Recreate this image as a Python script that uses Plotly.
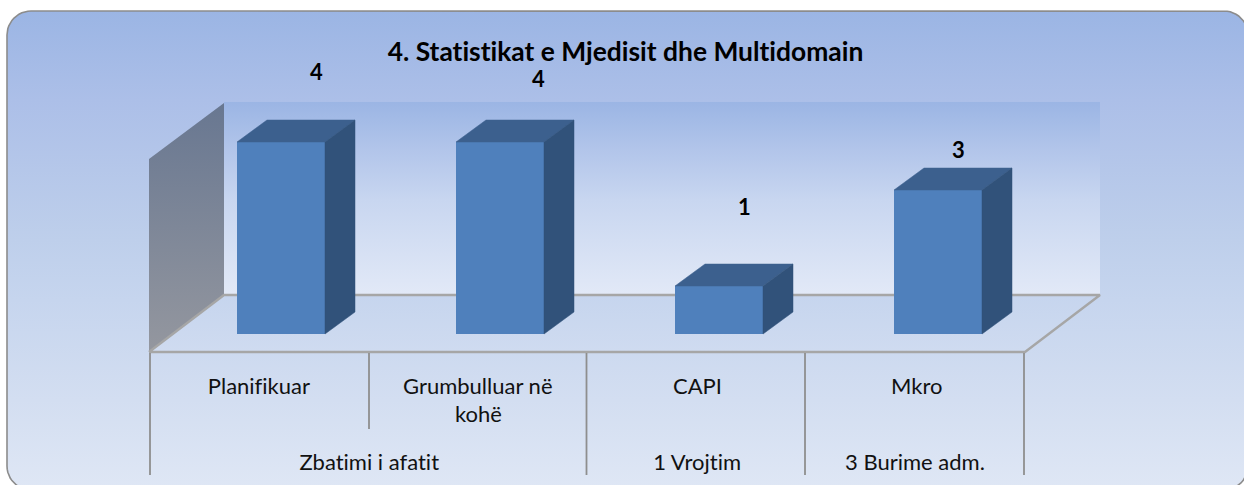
import math
import plotly.graph_objects as go

# ---- data ----
TITLE = "4. Statistikat e Mjedisit dhe Multidomain"
categories = ["Planifikuar", "Grumbulluar në\nkohë", "CAPI", "Mkro"]
values = [4, 4, 1, 3]
groups = ["Zbatimi i afatit", "1 Vrojtim", "3 Burime adm."]

# ---- canvas / projection ----
W, H = 1244, 485
PX_PER_CAT, CAT0_PX = 219.0, 281.0       # category index -> canvas x
PX_PER_UNIT, ZERO_PX = 48.0, 334.0       # value -> canvas y
BAR_WIDTH = 88 / PX_PER_CAT
DEPTH_X, DEPTH_Y = 30 / PX_PER_CAT, 22 / PX_PER_UNIT

# manual displacement of the value labels, in px (Excel labels were dragged)
LABEL_DX = [35, 38, 25, 20]
LABEL_DY = [71, 64, 80, 41]
CAT_LABEL_SHIFT = -22
GROUP_LABEL_PX = [369, 697, 915]

FONT = "Lato"
FRONT, TOP, SIDE = "#4F80BC", "#3C608E", "#31527A"
EDGE, DIV = "#A6A6A6", "#8E8E8E"

fig = go.Figure()


def chrome(xs, ys, **kw):
    fig.add_trace(go.Scatter(x=xs, y=ys, xaxis="x", yaxis="y", hoverinfo="skip",
                             showlegend=False, **kw))


def scale(stops, y0, y1):
    return [[(y - y0) / (y1 - y0), c] for y, c in stops]


# rounded panel
L, T, R, B, RAD = 7, 11, 1248, 490, 24
px, py = [], []
for cx, cy, a0 in [(L + RAD, T + RAD, 180), (R - RAD, T + RAD, 270),
                   (R - RAD, B - RAD, 0), (L + RAD, B - RAD, 90)]:
    for i in range(13):
        a = math.radians(a0 + 90 * i / 12)
        px.append(cx + RAD * math.cos(a))
        py.append(cy + RAD * math.sin(a))
px.append(px[0]); py.append(py[0])
panel_stops = [(11, "rgb(155,181,228)"), (100, "rgb(172,191,232)"),
               (240, "rgb(190,207,235)"), (300, "rgb(198,213,238)"),
               (400, "rgb(211,222,241)"), (490, "rgb(223,231,245)")]
chrome(px, py, mode="lines", fill="toself", line=dict(color="#8C8C8C", width=1.6),
       fillgradient=dict(type="vertical", start=11, stop=490,
                         colorscale=scale(panel_stops, 11, 490)))

# back wall
wall_stops = [(102, "rgb(155,181,228)"), (150, "rgb(178,197,234)"),
              (200, "rgb(200,214,240)"), (295, "rgb(226,233,247)")]
chrome([224, 1100, 1100, 224, 224], [102, 102, 295, 295, 102], mode="lines", fill="toself",
       line=dict(width=0), fillgradient=dict(type="vertical", start=102, stop=295,
                                             colorscale=scale(wall_stops, 102, 295)))
# left wall
side_stops = [(103, "rgb(104,119,145)"), (352, "rgb(148,151,159)")]
chrome([149, 224, 224, 149, 149], [159, 103, 295, 352, 159], mode="lines", fill="toself",
       line=dict(width=0), fillgradient=dict(type="vertical", start=103, stop=352,
                                             colorscale=scale(side_stops, 103, 352)))
# floor
floor_stops = [(295, "rgb(198,213,238)"), (352, "rgb(207,219,240)")]
chrome([149, 224, 1100, 1025, 149], [352, 295, 295, 352, 352], mode="lines", fill="toself",
       line=dict(width=0), fillgradient=dict(type="vertical", start=295, stop=352,
                                             colorscale=scale(floor_stops, 295, 352)))
# floor edges
chrome([149, 224, 1100, 1025, 149], [352, 295, 295, 352, 352], mode="lines",
       line=dict(color=EDGE, width=2.4))
# axis dividers
for xd, yd in [(150, 475), (369, 429), (586.5, 475), (805, 475), (1024, 475)]:
    chrome([xd, xd], [353, yd], mode="lines", line=dict(color=DIV, width=1.8))

# bars
idx = list(range(len(values)))
fig.add_trace(go.Bar(x=idx, y=values, width=BAR_WIDTH, xaxis="x2", yaxis="y2",
                     marker=dict(color=FRONT, line=dict(width=0)), showlegend=False,
                     hovertemplate="%{y}<extra></extra>"))
for i, v in zip(idx, values):
    x0, x1 = i - BAR_WIDTH / 2, i + BAR_WIDTH / 2
    fig.add_trace(go.Scatter(x=[x0, x0 + DEPTH_X, x1 + DEPTH_X, x1, x0],
                             y=[v, v + DEPTH_Y, v + DEPTH_Y, v, v],
                             xaxis="x2", yaxis="y2", mode="lines", fill="toself",
                             fillcolor=TOP, line=dict(color=TOP, width=0.5),
                             hoverinfo="skip", showlegend=False))
    fig.add_trace(go.Scatter(x=[x1, x1 + DEPTH_X, x1 + DEPTH_X, x1, x1],
                             y=[v, v + DEPTH_Y, DEPTH_Y, 0, v],
                             xaxis="x2", yaxis="y2", mode="lines", fill="toself",
                             fillcolor=SIDE, line=dict(color=SIDE, width=0.5),
                             hoverinfo="skip", showlegend=False))

annotations = []
# value labels
for i, v, dx, dy in zip(idx, values, LABEL_DX, LABEL_DY):
    annotations.append(dict(x=i, y=v, xref="x2", yref="y2", text=f"<b>{v}</b>", showarrow=False,
                            xshift=dx, yshift=dy, xanchor="center", yanchor="middle",
                            font=dict(family=FONT, size=22, color="#000000")))
# category labels
for i, cat in enumerate(categories):
    for j, line in enumerate(cat.split("\n")):
        annotations.append(dict(x=CAT0_PX + PX_PER_CAT * i + CAT_LABEL_SHIFT, y=385 + 28 * j,
                                xref="x", yref="y", text=line, showarrow=False,
                                xanchor="center", yanchor="middle",
                                font=dict(family=FONT, size=22, color="#111111")))
# group labels
for g, gx in zip(groups, GROUP_LABEL_PX):
    annotations.append(dict(x=gx, y=461, xref="x", yref="y", text=g, showarrow=False,
                            xanchor="center", yanchor="middle",
                            font=dict(family=FONT, size=22, color="#111111")))

hidden = dict(visible=False, showgrid=False, zeroline=False)
fig.update_layout(
    width=W, height=H, margin=dict(l=0, r=0, t=0, b=0),
    paper_bgcolor="white", plot_bgcolor="rgba(0,0,0,0)", showlegend=False,
    title=dict(text=f"<b>{TITLE}</b>", x=625.5 / W, y=1 - 52 / H, xanchor="center",
               yanchor="middle", font=dict(family=FONT, size=26.4, color="#000000")),
    xaxis=dict(range=[0, W], domain=[0, 1], **hidden),
    yaxis=dict(range=[H, 0], domain=[0, 1], **hidden),
    xaxis2=dict(range=[-CAT0_PX / PX_PER_CAT, (W - CAT0_PX) / PX_PER_CAT],
                overlaying="x", **hidden),
    yaxis2=dict(range=[(ZERO_PX - H) / PX_PER_UNIT, ZERO_PX / PX_PER_UNIT],
                overlaying="y", **hidden),
    annotations=annotations,
)

css = ("document.body.style.margin='0';document.body.style.overflow='hidden';"
       "var s=document.createElement('style');"
       "s.textContent='svg text{font-variant-ligatures:none !important}';"
       "document.head.appendChild(s);")
fig.write_html("out.html", post_script=css, config=dict(displayModeBar=False))
